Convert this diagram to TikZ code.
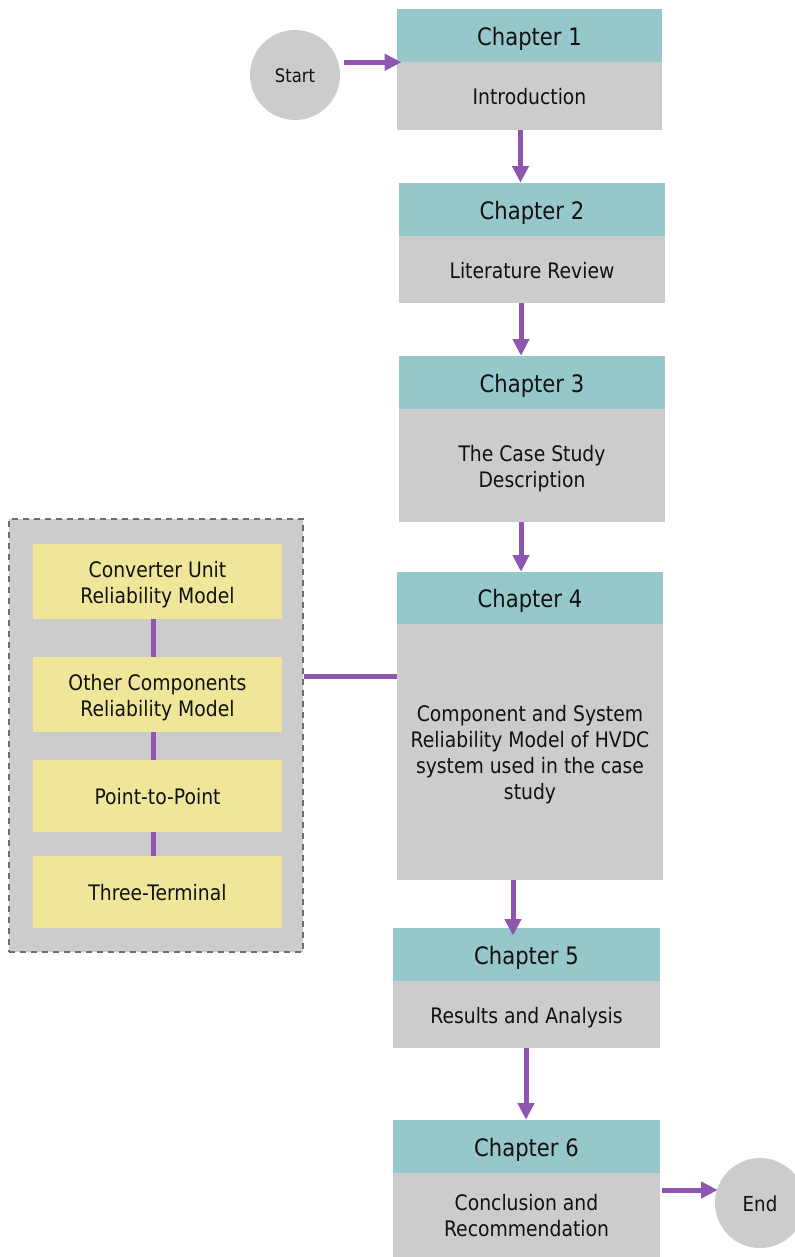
\documentclass[tikz,border=0pt]{standalone}
\usepackage{fontspec}
\setmainfont{DejaVu Sans}[FakeStretch=0.88]
\usetikzlibrary{arrows.meta,positioning}
\definecolor{teal1}{HTML}{96C7CA}
\definecolor{gray1}{HTML}{CCCCCC}
\definecolor{yel1}{HTML}{F0E699}
\definecolor{purp}{HTML}{8F56AF}
\definecolor{dash1}{HTML}{6E6E6E}
\definecolor{txt}{HTML}{111111}
\newcommand{\topstrut}{\rule{0pt}{1.05em}}
\newcommand{\botstrut}{\rule[-0.24em]{0pt}{0pt}}
\begin{document}
\begin{tikzpicture}[x=0.75pt,y=-0.75pt,
  txtbox/.style={inner sep=0pt,text=txt,align=center,
    execute at begin node=\topstrut, execute at end node=\botstrut},
  hdr/.style={rectangle,fill=teal1,txtbox,font=\fontsize{18}{21}\selectfont},
  bdy/.style={rectangle,fill=gray1,txtbox,font=\fontsize{16}{19.5}\selectfont},
  ybox/.style={rectangle,fill=yel1,txtbox,minimum width=186.75pt,font=\fontsize{16}{19.5}\selectfont},
  term/.style={circle,fill=gray1,txtbox,minimum size=67.5pt},
  arr/.style={draw=purp,line width=3.75pt,-{Triangle[length=12.5pt,width=12pt]}},
  lnk/.style={draw=purp,line width=3.75pt}]
\useasboundingbox (0,0) rectangle (794,1257);
% container
\node[draw=dash1,fill=gray1,line width=1.9pt,dash pattern=on 4.5pt off 3.75pt,inner sep=0pt,minimum width=220.5pt,minimum height=324.75pt] (cont) at (156,735.5) {};
% yellow boxes
\node[ybox,minimum height=56.25pt] (y1) at (157.5,581.5) {\topstrut Converter Unit\\Reliability Model};
\node[ybox,minimum height=56.25pt] (y2) at (157.5,694.5) {\topstrut Other Components\\Reliability Model};
\node[ybox,minimum height=54pt] (y3) at (157.5,796) {Point-to-Point};
\node[ybox,minimum height=54pt] (y4) at (157.5,892) {Three-Terminal};
\coordinate (yx) at (153,0);
\draw[lnk] (y1.south -| yx) -- (y2.north -| yx);
\draw[lnk] (y2.south -| yx) -- (y3.north -| yx);
\draw[lnk] (y3.south -| yx) -- (y4.north -| yx);
% terminals
\node[term,font=\fontsize{14}{16}\selectfont] (s) at (295,75) {Start};
\node[term,font=\fontsize{15.5}{18}\selectfont] (e) at (760,1203) {End};
% chapters
\node[hdr,minimum width=198.75pt,minimum height=39.75pt] (h1) at (529.5,35.5) {Chapter 1};
\node[bdy,minimum width=198.75pt,minimum height=51pt] (b1) at (529.5,96) {Introduction};
\node[hdr,minimum width=199.5pt,minimum height=39.75pt] (h2) at (532,209.5) {Chapter 2};
\node[bdy,minimum width=199.5pt,minimum height=50.25pt] (b2) at (532,269.5) {Literature Review};
\node[hdr,minimum width=199.5pt,minimum height=39.75pt] (h3) at (532,382.5) {Chapter 3};
\node[bdy,minimum width=199.5pt,minimum height=84.75pt] (b3) at (532,465.5) {\topstrut The Case Study\\Description};
\node[hdr,minimum width=199.5pt,minimum height=39pt] (h4) at (530,598) {Chapter 4};
\node[bdy,minimum width=199.5pt,minimum height=192pt] (b4) at (530,752) {\topstrut Component and System\\Reliability Model of HVDC\\system used in the case\\study};
\node[hdr,minimum width=200.25pt,minimum height=39.75pt] (h5) at (526.5,954.5) {Chapter 5};
\node[bdy,minimum width=200.25pt,minimum height=50.25pt] (b5) at (526.5,1014.5) {Results and Analysis};
\node[hdr,minimum width=200.25pt,minimum height=39.75pt] (h6) at (526.5,1146.5) {Chapter 6};
\node[bdy,minimum width=200.25pt,minimum height=63pt] (b6) at (526.5,1215) {\topstrut Conclusion and\\Recommendation};
% connectors
\coordinate (a1) at (520.5,0);
\coordinate (a2) at (521,0);
\coordinate (a4) at (513,0);
\coordinate (a5) at (526,0);
\coordinate (lk) at (0,676);
\coordinate (r6) at ([xshift=1.25pt,yshift=18.75pt]b6.east);
\draw[arr] (b1.south -| a1) -- (h2.north -| a1);
\draw[arr] (b2.south -| a2) -- (h3.north -| a2);
\draw[arr] (b3.south -| a2) -- (h4.north -| a2);
\draw[arr] (b4.south -| a4) -- ([yshift=-6pt]h5.north -| a4);
\draw[arr] (b5.south -| a5) -- (h6.north -| a5);
\draw[arr] ([xshift=3pt]s.east |- h1.south west) -- ([xshift=3.5pt]h1.south west);
\draw[arr] (r6) -- ([xshift=2.25pt]e.west |- r6);
\draw[lnk] (cont.east |- lk) -- (h4.west |- lk);
\end{tikzpicture}
\end{document}
